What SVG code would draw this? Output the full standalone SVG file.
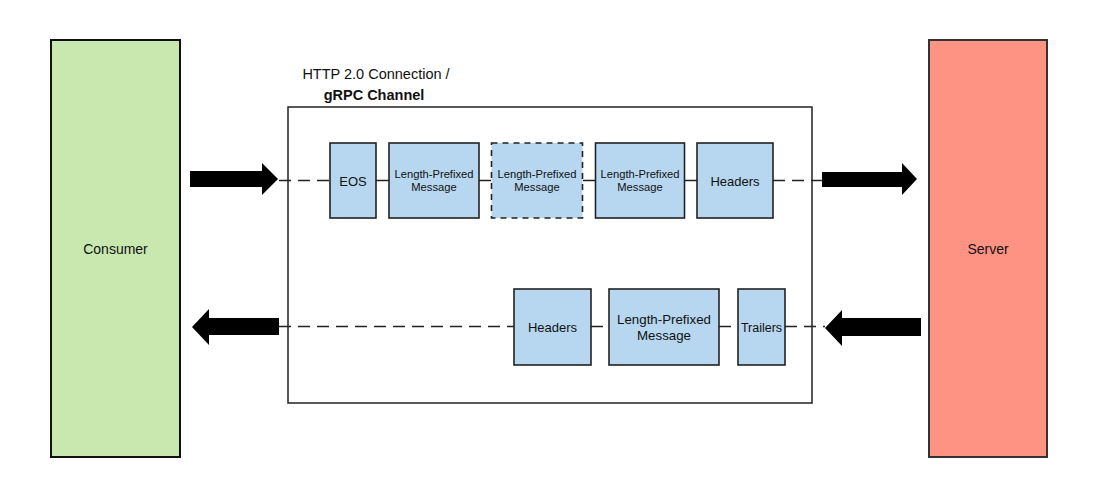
<svg xmlns="http://www.w3.org/2000/svg" width="1100" height="496" viewBox="0 0 1100 496">
<style>
text{font-family:"Liberation Sans",Arial,sans-serif;fill:#111;text-anchor:middle}
.box{fill:#b6d7ef;stroke:#222;stroke-width:1.6}
.dash{stroke-dasharray:6 5}
.line{stroke:#222;stroke-width:1.5;fill:none}
.dl{stroke:#222;stroke-width:1.5;fill:none;stroke-dasharray:12 7}
.arrow{fill:#000}
.s{font-size:11.2px}
.m{font-size:13px}
</style>
<rect width="1100" height="496" fill="#fff"/>
<g id="consumer">
<rect x="51" y="40" width="129" height="417" fill="#c9e8b0" stroke="#111" stroke-width="2"/>
<text x="115.5" y="254" font-size="14">Consumer</text>
</g>
<g id="server">
<rect x="929" y="40" width="118" height="417" fill="#fe9383" stroke="#333" stroke-width="2"/>
<text x="988" y="254" font-size="14">Server</text>
</g>
<g id="channel">
<rect x="288" y="107" width="524" height="296" fill="#fff" stroke="#222" stroke-width="1.5"/>
<text x="376" y="79" font-size="14.5">HTTP 2.0 Connection /</text>
<text x="374" y="100" font-size="14.5" font-weight="bold">gRPC Channel</text>
</g>
<g id="connectors">
<line class="dl" x1="279" y1="180.5" x2="330" y2="180.5"/>
<line class="line" x1="376" y1="180.5" x2="389" y2="180.5"/>
<line class="line" x1="479" y1="180.5" x2="491" y2="180.5"/>
<line class="line" x1="583" y1="180.5" x2="595" y2="180.5"/>
<line class="line" x1="684" y1="180.5" x2="697" y2="180.5"/>
<line class="dl" x1="773" y1="180.5" x2="822" y2="180.5"/>
<line class="dl" x1="279" y1="326.5" x2="514" y2="326.5"/>
<line class="dl" x1="591" y1="326.5" x2="609" y2="326.5"/>
<line class="dl" x1="719" y1="326.5" x2="738" y2="326.5"/>
<line class="dl" x1="785" y1="326.5" x2="825" y2="326.5"/>
<polygon class="arrow" points="190,171 262,171 262,163 278,179 262,195 262,187 190,187"/>
<polygon class="arrow" points="822,172 902,172 902,163 917,179 902,195 902,187 822,187"/>
<polygon class="arrow" points="279,318 209,318 209,309 192,327 209,345 209,335 279,335"/>
<polygon class="arrow" points="921,318 842,318 842,310 825,328 842,346 842,336 921,336"/>
</g>
<g id="eos">
<rect class="box" x="330" y="143" width="46" height="75"/>
<text class="m" x="353" y="185.5">EOS</text>
</g>
<g id="lpm1">
<rect class="box" x="389" y="143" width="90" height="75"/>
<text class="s" x="434" y="178">Length-Prefixed</text>
<text class="s" x="434" y="191">Message</text>
</g>
<g id="lpm2">
<rect class="box dash" x="491.5" y="143" width="91" height="75"/>
<text class="s" x="537" y="178">Length-Prefixed</text>
<text class="s" x="537" y="191">Message</text>
</g>
<g id="lpm3">
<rect class="box" x="595.5" y="143" width="89" height="75"/>
<text class="s" x="640" y="178">Length-Prefixed</text>
<text class="s" x="640" y="191">Message</text>
</g>
<g id="headers1">
<rect class="box" x="697" y="143" width="76" height="75"/>
<text class="m" x="735" y="185.5">Headers</text>
</g>
<g id="headers2">
<rect class="box" x="514" y="289" width="77" height="76"/>
<text class="m" x="552.5" y="332">Headers</text>
</g>
<g id="lpm4">
<rect class="box" x="609" y="289" width="110" height="76"/>
<text x="664" y="324" font-size="13.3">Length-Prefixed</text>
<text x="664" y="340" font-size="13.3">Message</text>
</g>
<g id="trailers">
<rect class="box" x="738" y="289" width="47" height="76"/>
<text x="761.5" y="332" font-size="12.5">Trailers</text>
</g>
</svg>
